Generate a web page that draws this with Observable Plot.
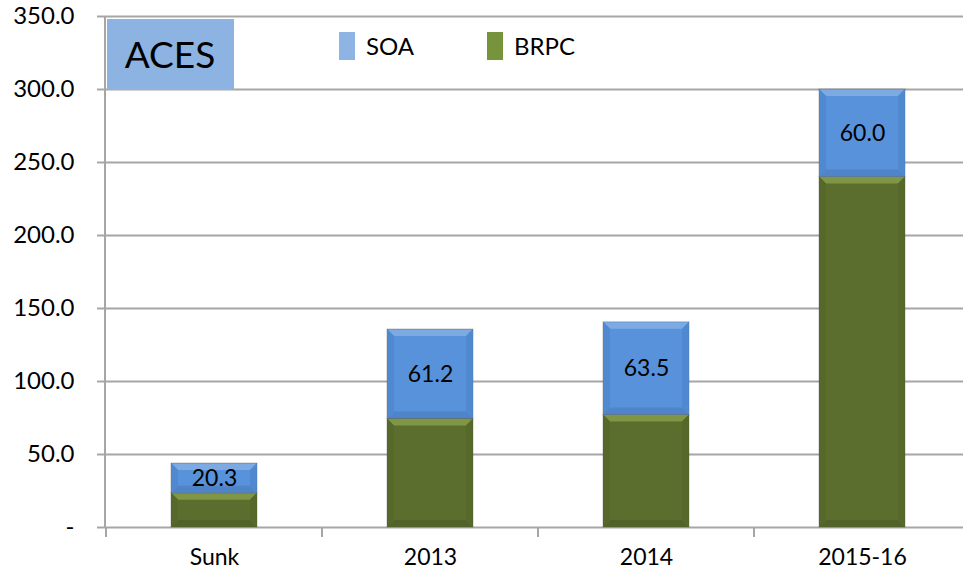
<!DOCTYPE html>
<html>
<head>
<meta charset="utf-8">
<script src="https://cdn.jsdelivr.net/npm/d3@7"></script>
<script src="https://cdn.jsdelivr.net/npm/@observablehq/plot@0.6"></script>
<style>
  html, body { margin: 0; padding: 0; background: #fff; }
  svg { display: block; }
</style>
</head>
<body>
<div id="chart"></div>
<script>
const categories = ["Sunk", "2013", "2014", "2015-16"];
const brpcValues = [23.5, 74.4, 77.0, 240.0];
const soaValues = [20.3, 61.2, 63.5, 60.0];
const yTicks = [0, 50, 100, 150, 200, 250, 300, 350];
const seriesNames = ["SOA", "BRPC"];
const chartTitle = "ACES";

const rows = [];
categories.forEach((c, i) => {
  rows.push({cat: c, series: "BRPC", value: brpcValues[i]});
  rows.push({cat: c, series: "SOA", value: soaValues[i]});
});
const labels = categories.map((c, i) => ({cat: c, y: brpcValues[i] + soaValues[i] / 2, text: soaValues[i].toFixed(1)}));

const FONT = "Lato, 'Open Sans', sans-serif";
const barColor = {SOA: "#5892da", BRPC: "#5b6e2e"};
const bevel = {
  SOA: {top: "#7eaae3", bottom: "#4f84c9", side: "#5189d0"},
  BRPC: {top: "#7f9644", bottom: "#52632a", side: "#56692b"}
};
const swatchColor = {SOA: "#8db4e2", BRPC: "#77933c"};

const plot = Plot.plot({
  width: 963,
  height: 577,
  marginTop: 16,
  marginBottom: 50,
  marginLeft: 105,
  marginRight: 0,
  style: {fontFamily: FONT, fontSize: "24px", color: "#000", background: "#fff"},
  x: {domain: categories, range: [105, 971], paddingInner: 0.6, paddingOuter: 0.3, label: null},
  y: {domain: [0, 350], label: null},
  marks: [
    Plot.ruleY(yTicks, {stroke: "#a6a6a6", strokeWidth: 2}),
    Plot.axisY({ticks: yTicks, tickSize: 8, tickPadding: 23, stroke: "#a6a6a6", strokeWidth: 2, strokeOpacity: 1,
      tickFormat: d => d === 0 ? "-" : d.toFixed(1), fontSize: 24, fill: "#000"}),
    Plot.axisX({tickSize: 0, tickPadding: 21, fontSize: 23, fill: "#000"}),
    Plot.barY(rows, {x: "cat", y: "value", fill: d => barColor[d.series], stroke: "#333", strokeOpacity: 0.3,
      strokeWidth: 1, order: ["BRPC", "SOA"], z: "series", className: "bars", title: d => d.series}),
    Plot.text(labels, {x: "cat", y: "y", text: "text", fontSize: 23, fill: "#000", className: "vlabels"})
  ]
});

const svg = d3.select(plot);
const xs = plot.scale("x");
const ys = plot.scale("y");
const y0 = ys.apply(0);

// bevel shading derived from the rendered bars
const bevelG = svg.insert("g", ".vlabels");
svg.selectAll(".bars rect").each(function() {
  const r = d3.select(this);
  const x = +r.attr("x"), y = +r.attr("y"), w = +r.attr("width"), h = +r.attr("height");
  const s = d3.select(this).select("title").text();
  const b = bevel[s];
  const k = Math.min(7, h / 3, w / 3);
  const pts = a => a.map(p => p.join(",")).join(" ");
  bevelG.append("polygon").attr("points", pts([[x + 0.5, y + 0.5], [x + w - 0.5, y + 0.5], [x + w - k, y + k], [x + k, y + k]])).attr("fill", b.top);
  bevelG.append("polygon").attr("points", pts([[x + 0.5, y + h - 0.5], [x + w - 0.5, y + h - 0.5], [x + w - k, y + h - k], [x + k, y + h - k]])).attr("fill", b.bottom);
  bevelG.append("polygon").attr("points", pts([[x + 0.5, y + 0.5], [x + k, y + k], [x + k, y + h - k], [x + 0.5, y + h - 0.5]])).attr("fill", b.side);
  bevelG.append("polygon").attr("points", pts([[x + w - 0.5, y + 0.5], [x + w - k, y + k], [x + w - k, y + h - k], [x + w - 0.5, y + h - 0.5]])).attr("fill", b.side);
});

// boundary tick marks on the category axis
categories.forEach(c => {
  const bx = xs.apply(c) - (xs.step - xs.bandwidth) / 2;
  svg.append("line").attr("x1", bx).attr("x2", bx).attr("y1", y0).attr("y2", y0 + 10)
    .attr("stroke", "#a6a6a6").attr("stroke-width", 2);
});
// y axis line
svg.append("line").attr("x1", 105).attr("x2", 105).attr("y1", ys.apply(350)).attr("y2", y0)
  .attr("stroke", "#a6a6a6").attr("stroke-width", 2);

// title box
const g = svg.append("g");
g.append("rect").attr("x", 107).attr("y", 19).attr("width", 127).attr("height", 71).attr("fill", "#8db3e2");
g.append("text").attr("x", 170).attr("y", 68).attr("text-anchor", "middle")
  .style("font-family", FONT).style("font-size", "37px").attr("fill", "#000").text(chartTitle);

// legend
const legendX = [339, 487];
seriesNames.forEach((s, i) => {
  g.append("rect").attr("x", legendX[i]).attr("y", 32).attr("width", 16).attr("height", 28).attr("fill", swatchColor[s]);
  g.append("text").attr("x", legendX[i] + 27).attr("y", 55).attr("text-anchor", "start")
    .style("font-family", FONT).style("font-size", "24px").attr("fill", "#000").text(s);
});

document.getElementById("chart").appendChild(plot);
</script>
</body>
</html>
